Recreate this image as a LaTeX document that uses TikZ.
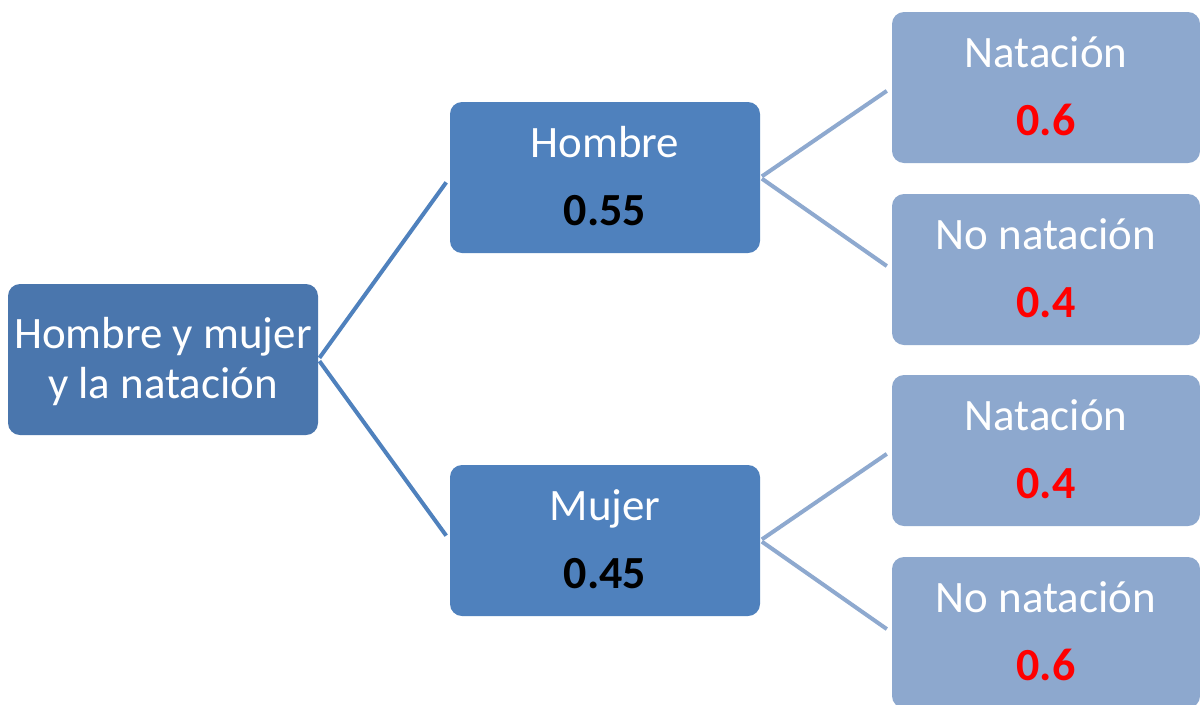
\documentclass[tikz,border=0pt]{standalone}
\usepackage{fontspec}
\setmainfont{Carlito}
\definecolor{rootblue}{HTML}{4A76AD}
\definecolor{midblue}{HTML}{4F81BD}
\definecolor{leafblue}{HTML}{8DA8CE}
\definecolor{linkdark}{HTML}{4F81BD}
\definecolor{linklight}{HTML}{8EA9CF}
\tikzset{
  boxbase/.style={rectangle, rounded corners=9pt, draw=none, minimum height=113.25pt, inner sep=0pt},
  rootbox/.style={boxbase, fill=rootblue, minimum width=232.5pt},
  midbox/.style={boxbase, fill=midblue, minimum width=232.5pt},
  leafbox/.style={boxbase, fill=leafblue, minimum width=231pt},
  lbl/.style={anchor=base, text=white, font=\fontsize{33.7}{40}\selectfont, inner sep=0pt},
  numblack/.style={anchor=base, text=black, font=\fontsize{34.5}{40}\selectfont\bfseries, inner sep=0pt},
  numred/.style={anchor=base, text=red, font=\fontsize{34.5}{40}\selectfont\bfseries, inner sep=0pt},
  darklink/.style={draw=linkdark, line width=3pt, shorten <=1.5pt, shorten >=4.5pt},
  lightlink/.style={draw=linklight, line width=3pt, shorten <=1.5pt, shorten >=4.5pt},
}
\begin{document}
\begin{tikzpicture}[x=0.75pt, y=-0.75pt]
\useasboundingbox (0,0) rectangle (1200,704);
\clip (0,0) rectangle (1200,704);
\fill[white] (0,0) rectangle (1200,704);
% boxes
\node[rootbox] (root) at (163,359.5) {};
\node[midbox] (hombre) at (605,177.5) {};
\node[midbox] (mujer) at (605,540.5) {};
\node[leafbox] (l1) at (1046,87.5) {};
\node[leafbox] (l2) at (1046,269.5) {};
\node[leafbox] (l3) at (1046,450.5) {};
\node[leafbox] (l4) at (1046,632.5) {};
% connectors
\draw[darklink] (root.east) -- (hombre.west);
\draw[darklink] (root.east) -- (mujer.west);
\draw[lightlink] (hombre.east) -- (l1.west);
\draw[lightlink] (hombre.east) -- (l2.west);
\draw[lightlink] (mujer.east) -- (l3.west);
\draw[lightlink] (mujer.east) -- (l4.west);
% texts
\node[lbl] (roott1) at ([yshift=8.625pt]root.center) {Hombre y mujer};
\node[lbl] (roott2) at ([yshift=-28.875pt]root.center) {y la natación};
\node[lbl] (hombret) at ([yshift=15.375pt]hombre.center) {Hombre};
\node[numblack] (hombrep) at ([yshift=-35.625pt]hombre.center) {0.55};
\node[lbl] (mujert) at ([yshift=15.375pt]mujer.center) {Mujer};
\node[numblack] (mujerp) at ([yshift=-35.625pt]mujer.center) {0.45};
\node[lbl] (l1t) at ([yshift=15.375pt]l1.center) {Natación};
\node[numred] (l1p) at ([yshift=-35.625pt]l1.center) {0.6};
\node[lbl] (l2t) at ([yshift=15.375pt]l2.center) {No natación};
\node[numred] (l2p) at ([yshift=-35.625pt]l2.center) {0.4};
\node[lbl] (l3t) at ([yshift=15.375pt]l3.center) {Natación};
\node[numred] (l3p) at ([yshift=-35.625pt]l3.center) {0.4};
\node[lbl] (l4t) at ([yshift=15.375pt]l4.center) {No natación};
\node[numred] (l4p) at ([yshift=-35.625pt]l4.center) {0.6};
\end{tikzpicture}
\end{document}
